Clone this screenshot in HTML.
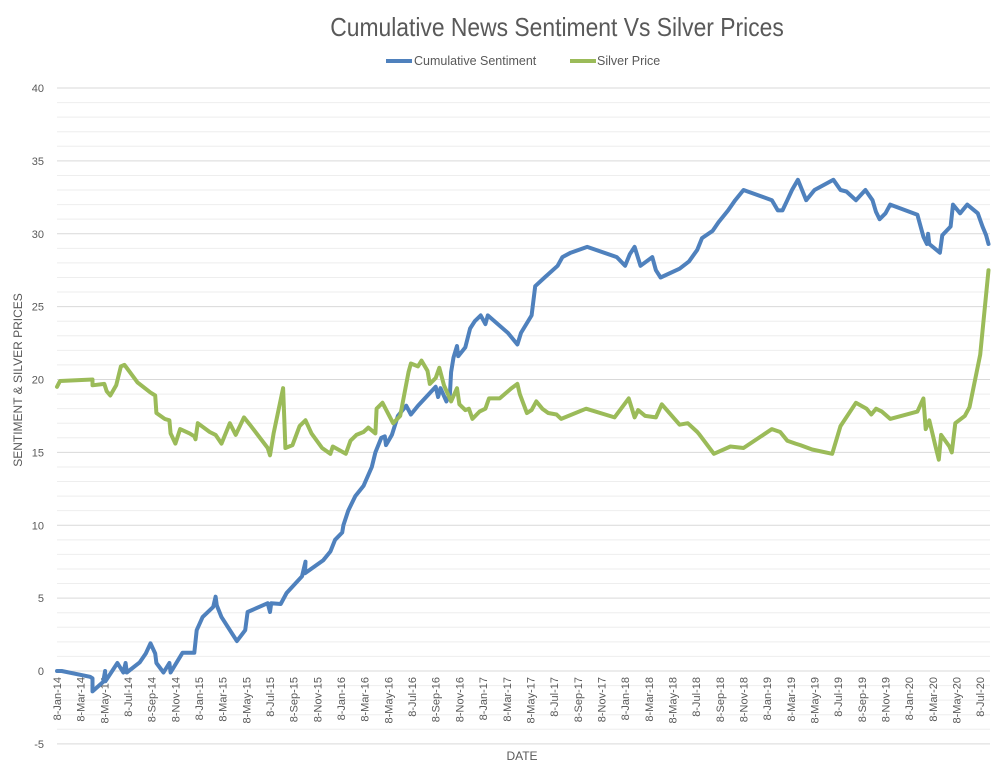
<!DOCTYPE html>
<html><head><meta charset="utf-8"><style>
body{margin:0;background:#fff;}
svg{display:block;font-family:"Liberation Sans",sans-serif;}
</style></head><body>
<svg id="chart" width="999" height="779" viewBox="0 0 999 779" xmlns="http://www.w3.org/2000/svg">
<text x="557" y="36" text-anchor="middle" font-size="26" fill="#595959" font-family="Liberation Sans Narrow, Liberation Sans, sans-serif" transform="translate(557 0) scale(0.88 1) translate(-557 0)">Cumulative News Sentiment Vs Silver Prices</text>
<g>
<line x1="386" y1="61" x2="412" y2="61" stroke="#4f81bd" stroke-width="4"/>
<text x="414" y="65" font-size="12.5" fill="#595959">Cumulative Sentiment</text>
<line x1="570" y1="61" x2="596" y2="61" stroke="#9bbb59" stroke-width="4"/>
<text x="597" y="65" font-size="12.5" fill="#595959">Silver Price</text>
</g>
<g id="grid"></g><g id="yticks"></g><g id="xticks"></g><g id="series"></g>
<text transform="translate(22 380) rotate(-90)" text-anchor="middle" font-size="12" fill="#595959">SENTIMENT  &amp;  SILVER PRICES</text>
<text x="522" y="760" text-anchor="middle" font-size="12" fill="#595959">DATE</text>
</svg>
<script>
// months elapsed since 8-Jan-14
const sentMonths=[0,0.4,2.8,3.0,3.0,3.9,4.06,4.1,5.1,5.6,5.8,5.9,7.0,7.5,7.9,8.3,8.4,9.0,9.5,9.6,10.6,11.6,11.8,12.3,13.2,13.4,13.5,13.9,15.2,15.9,16.1,17.8,18.0,18.1,18.9,19.4,20.7,21.0,20.95,22.5,23.1,23.5,24.1,24.2,24.6,25.2,25.9,26.6,26.9,27.4,27.7,27.8,28.3,28.8,29.5,29.9,30.5,32.0,32.2,32.4,32.9,33.2,33.3,33.5,33.8,33.9,34.5,34.9,35.3,35.8,36.2,36.4,38.1,38.9,39.2,40.1,40.4,41.2,42.3,42.7,43.4,44.8,47.3,48.0,48.4,48.8,49.3,50.3,50.6,51.0,52.6,53.4,54.1,54.5,55.4,55.9,56.7,57.3,58.0,60.4,60.9,61.3,61.7,62.1,62.6,63.3,64.0,65.6,66.2,66.7,67.5,68.3,68.9,69.2,69.5,70.0,70.4,72.7,73.2,73.5,73.6,73.7,74.6,74.8,75.5,75.7,76.3,76.9,77.8,78.2,78.5,78.7];
const sentValues=[0,0,-0.4,-0.5,-1.4,-0.75,0,-0.7,0.55,-0.1,0.55,-0.1,0.6,1.2,1.9,1.2,0.55,-0.1,0.55,-0.1,1.25,1.25,2.8,3.7,4.4,5.1,4.5,3.7,2.05,2.8,4.05,4.65,4.05,4.65,4.6,5.35,6.5,7.5,6.7,7.6,8.2,9,9.5,10,11,12,12.7,14,15,16,16.1,15.5,16.2,17.5,18.2,17.6,18.2,19.5,18.8,19.4,18.5,19,20.5,21.5,22.3,21.6,22.2,23.5,24,24.4,23.8,24.4,23.2,22.4,23.2,24.4,26.4,27,27.8,28.4,28.7,29.1,28.4,27.8,28.6,29.1,27.8,28.4,27.5,27,27.6,28.1,28.9,29.7,30.2,30.8,31.6,32.3,33,32.3,31.6,31.6,32.3,33,33.7,32.3,33,33.7,33,32.9,32.3,33,32.3,31.5,31,31.4,32,31.3,29.8,29.3,30,29.3,28.7,29.9,30.5,32,31.4,32,31.4,30.5,29.9,29.3];
const silverMonths=[0,0.25,3.0,3.0,4.0,4.2,4.5,5.0,5.4,5.7,6.8,7.9,8.3,8.4,9.1,9.5,9.6,10.0,10.4,11.2,11.6,11.7,11.9,12.9,13.4,13.9,14.6,15.1,15.8,16.3,17.8,18.0,18.3,19.1,19.3,19.9,20.5,21.0,21.5,22.4,23.1,23.3,24.4,24.8,25.3,25.9,26.3,26.9,27.0,27.5,28.4,29.0,29.7,29.9,30.5,30.8,31.3,31.5,32.0,32.3,32.7,33.3,33.8,34.0,34.5,34.8,35.1,35.7,36.2,36.5,37.4,38.4,38.9,39.1,39.7,40.1,40.5,41.0,41.5,42.2,42.6,44.7,47.1,48.3,48.8,49.1,49.7,50.6,51.1,52.6,53.3,54.1,54.3,55.5,56.9,58.0,60.4,61.1,61.7,62.4,62.8,63.8,65.5,66.2,67.5,68.4,68.8,69.2,69.7,70.4,72.7,73.2,73.4,73.7,74.2,74.5,74.7,75.4,75.6,75.9,76.7,77.1,78.0,78.7];
const silverValues=[19.5,19.9,20,19.6,19.7,19.2,18.9,19.6,20.9,21,19.8,19.1,18.9,17.7,17.3,17.2,16.3,15.6,16.6,16.3,16.1,15.9,17,16.4,16.2,15.6,17,16.2,17.4,16.9,15.3,14.8,16.3,19.4,15.3,15.5,16.8,17.2,16.3,15.3,14.9,15.4,14.9,15.8,16.2,16.4,16.7,16.3,18,18.4,17,17.5,20.5,21.1,20.9,21.3,20.6,19.7,20.1,20.8,19.6,18.5,19.4,18.3,17.9,18,17.3,17.8,18,18.7,18.7,19.4,19.7,19,17.7,17.9,18.5,18,17.7,17.6,17.3,18,17.4,18.7,17.4,17.9,17.5,17.4,18.3,16.9,17,16.4,16.2,14.9,15.4,15.3,16.6,16.4,15.8,15.6,15.5,15.2,14.9,16.8,18.4,18,17.6,18,17.8,17.3,17.8,18.7,16.6,17.2,15.5,14.5,16.2,15.4,15,17,17.5,18.1,21.7,27.5];
const xTickLabels=[];
const monthNames=["Jan","Mar","May","Jul","Sep","Nov"];
for(let yr=14;yr<=20;yr++)for(const mn of monthNames){if(yr===20&&mn!=="Jan"&&mn!=="Mar"&&mn!=="May"&&mn!=="Jul")continue;xTickLabels.push("8-"+mn+"-"+yr);}
const yTickValues=[-5,0,5,10,15,20,25,30,35,40];

const X0=57,X1=990,XMAX=78.83,Y0=671,PXU=14.575;
const xs=m=>X0+m*(X1-X0)/XMAX;
const ys=v=>Y0-v*PXU;
const NS="http://www.w3.org/2000/svg";
function mk(tag,attrs,parent){const e=document.createElementNS(NS,tag);for(const k in attrs)e.setAttribute(k,attrs[k]);parent.appendChild(e);return e;}
const grid=document.getElementById('grid');
for(let v=-5;v<=40;v++){
  const l=mk('line',{x1:X0,x2:X1,y1:ys(v),y2:ys(v),stroke:v%5===0?'#d9d9d9':'#eeeeee','stroke-width':1},grid);
  
  
}
const yt=document.getElementById('yticks');
yTickValues.forEach(v=>{
  const t=mk('text',{x:44,y:ys(v)+4,'text-anchor':'end','font-size':11,fill:'#595959'},yt);
  t.textContent=v;
  
  
});
const xt=document.getElementById('xticks');
xTickLabels.forEach((s,i)=>{
  const x=xs(i*2);
  const t=mk('text',{transform:`translate(${x+4} 677) rotate(-90)`,'text-anchor':'end','font-size':11,fill:'#595959'},xt);
  t.textContent=s;
  
  
});
const ser=document.getElementById('series');
function line(ms,vs,color,name){
  const d=ms.map((m,i)=>(i?'L':'M')+xs(m).toFixed(1)+' '+ys(vs[i]).toFixed(1)).join(' ');
  const p=mk('path',{d:d,fill:'none',stroke:color,'stroke-width':4,'stroke-linejoin':'round','stroke-linecap':'round'},ser);
  
  
}
line(sentMonths,sentValues,'#4f81bd','sentiment-line');
line(silverMonths,silverValues,'#9bbb59','silver-price-line');
</script>
</body></html>
